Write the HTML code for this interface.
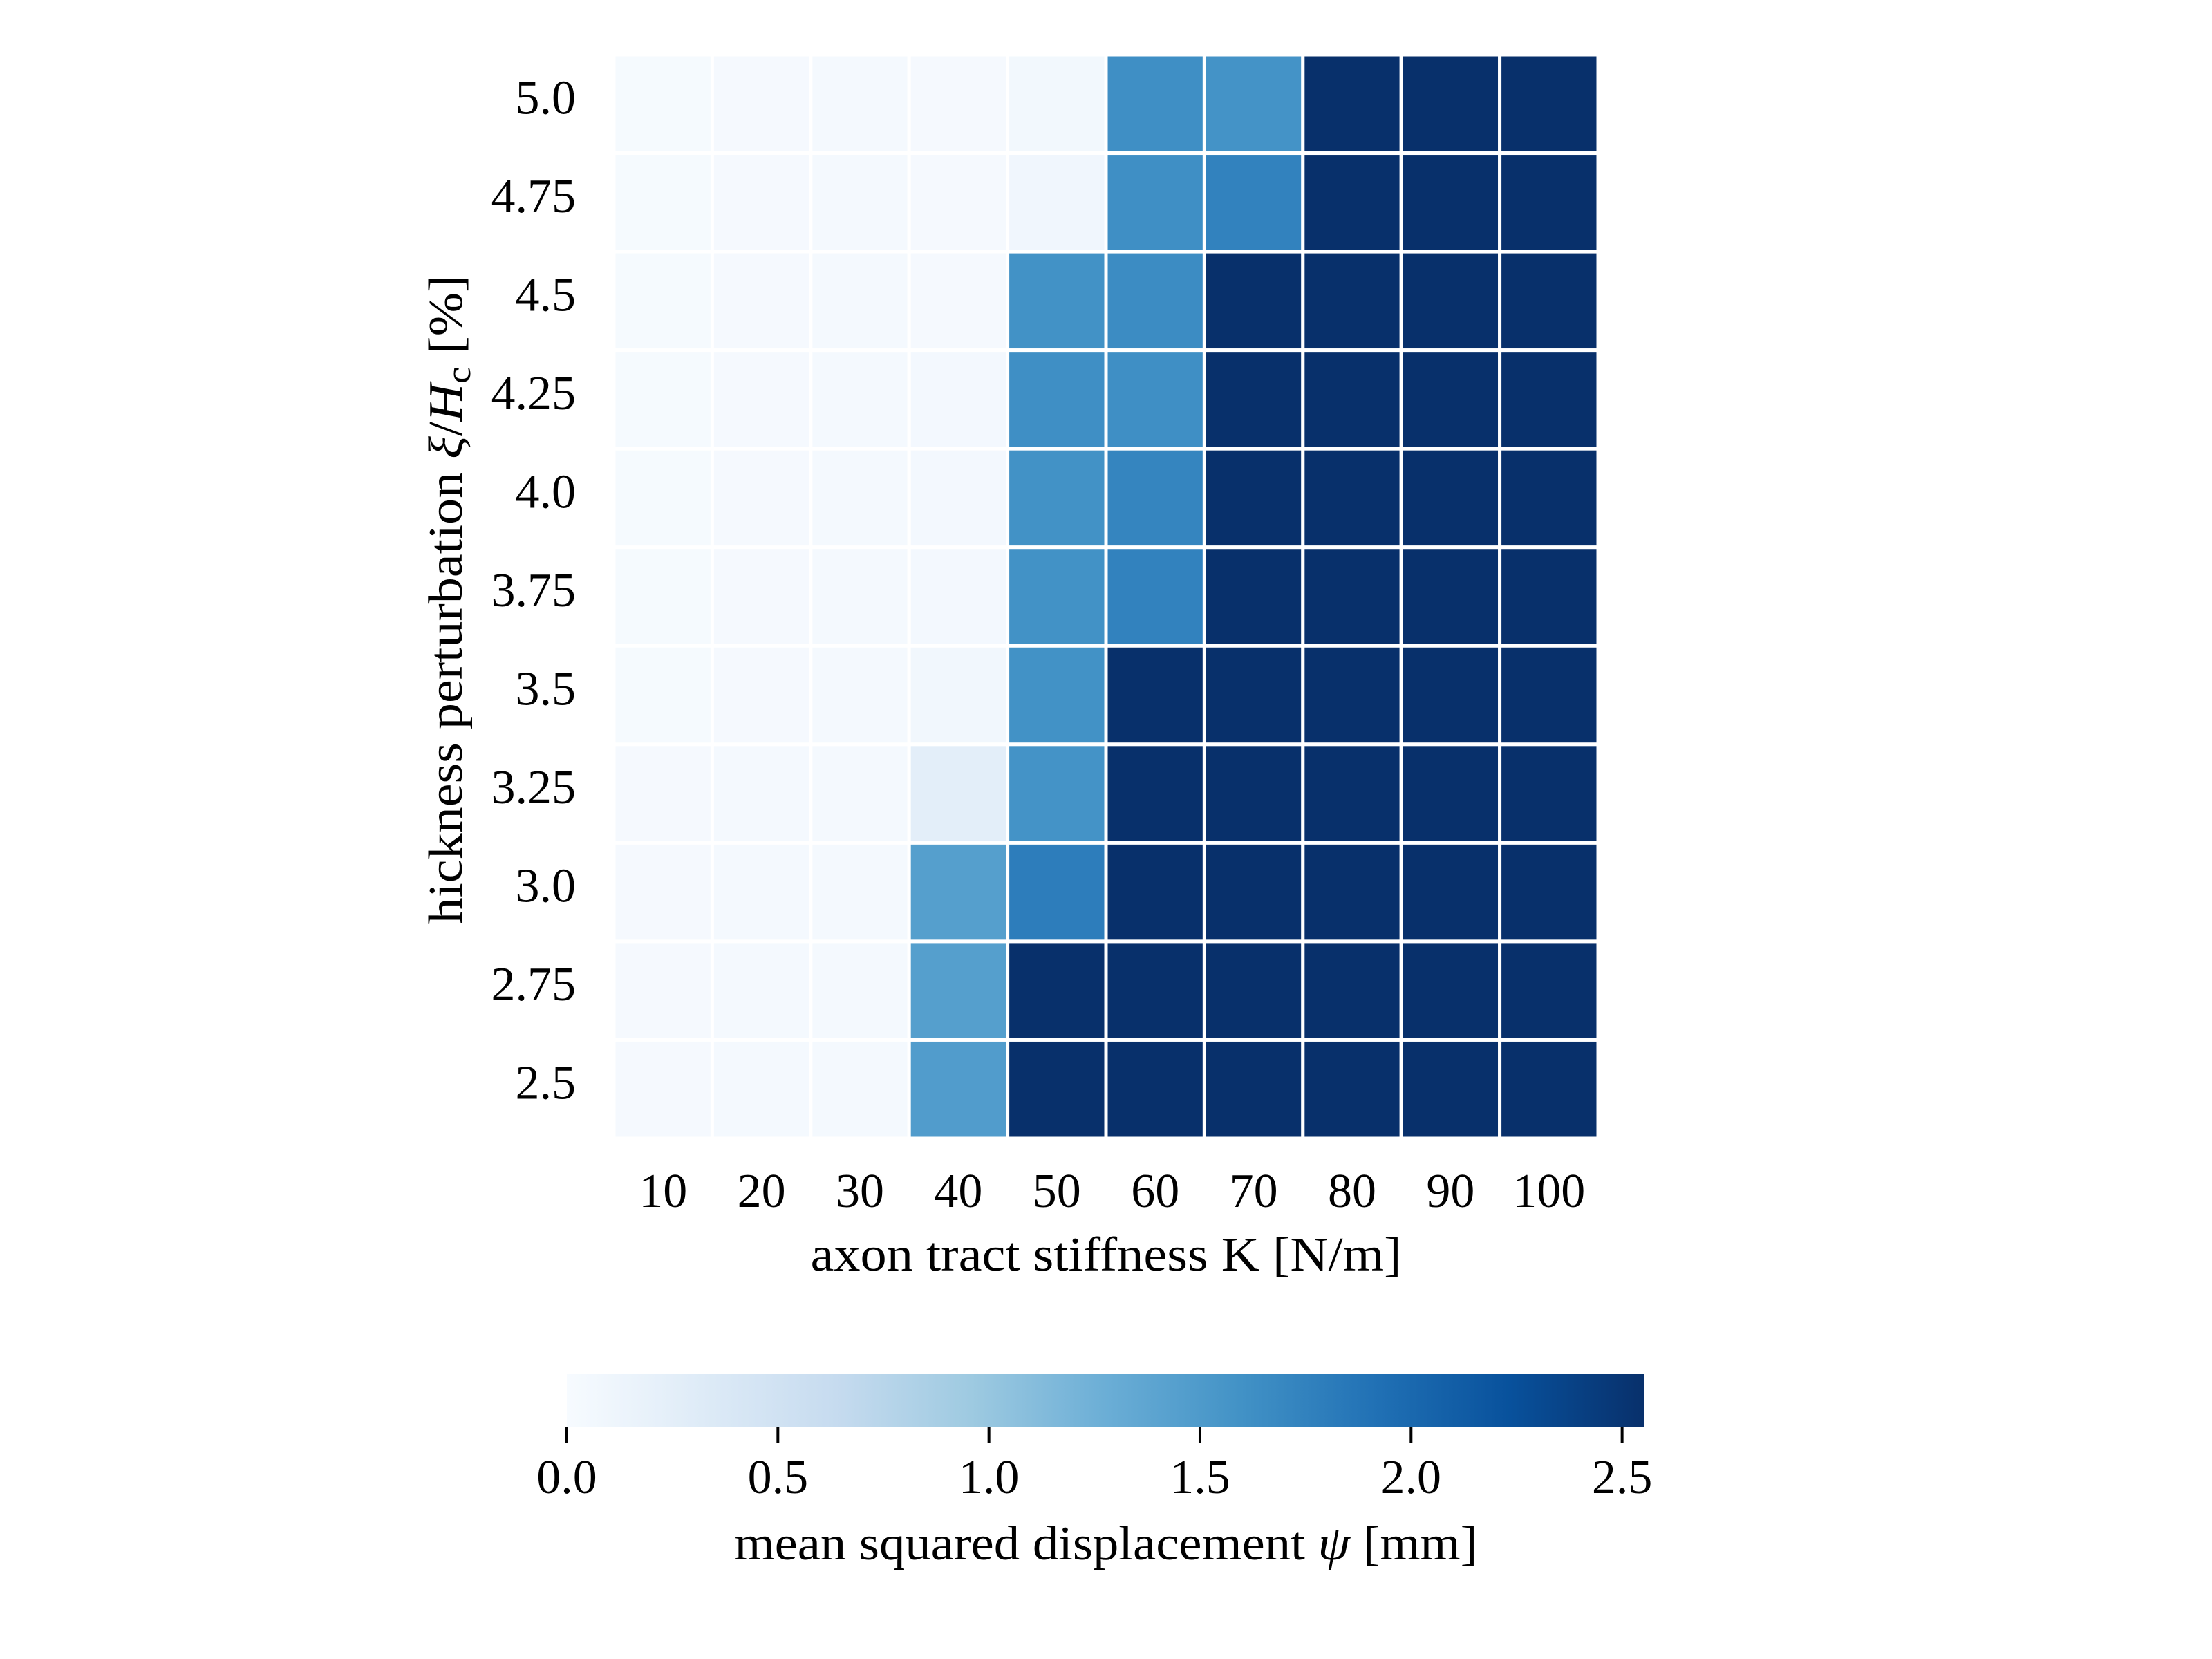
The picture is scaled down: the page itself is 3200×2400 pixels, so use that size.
<!DOCTYPE html>
<html><head><meta charset="utf-8"><style>
html,body{margin:0;padding:0;background:#fff;}
svg{display:block;font-family:"Liberation Serif",serif;}
</style></head><body>
<svg id="chart" width="3200" height="2400" viewBox="0 0 3200 2400" xmlns="http://www.w3.org/2000/svg">
<defs>
<linearGradient id="blues" x1="0" x2="1" y1="0" y2="0">
<stop offset="0" stop-color="#f7fbff"/><stop offset="0.125" stop-color="#deebf7"/>
<stop offset="0.25" stop-color="#c6dbef"/><stop offset="0.375" stop-color="#9ecae1"/>
<stop offset="0.5" stop-color="#6baed6"/><stop offset="0.625" stop-color="#4292c6"/>
<stop offset="0.75" stop-color="#2171b5"/><stop offset="0.875" stop-color="#08519c"/>
<stop offset="1" stop-color="#08306b"/>
</linearGradient>
</defs>
<g id="cells"></g>
<g id="xticks"></g>
<g id="yticks"></g>
<text x="1600" y="1838" font-size="70" text-anchor="middle" textLength="855" lengthAdjust="spacingAndGlyphs">axon tract stiffness K [N/m]</text>
<text transform="translate(668,867) rotate(-90)" font-size="70" text-anchor="middle" textLength="939" lengthAdjust="spacingAndGlyphs">hickness perturbation <tspan font-style="italic">ξ</tspan>/<tspan font-style="italic">H</tspan><tspan font-size="50" dy="12">c</tspan><tspan dy="-12"> [%]</tspan></text>
<rect x="820" y="1988" width="1559" height="77" fill="url(#blues)"/>
<g id="cbticks"></g>
<text x="1600" y="2256" font-size="70" text-anchor="middle" textLength="1075" lengthAdjust="spacingAndGlyphs">mean squared displacement <tspan font-style="italic">ψ</tspan> [mm]</text>
</svg>
<script>
const xCategories = ["10","20","30","40","50","60","70","80","90","100"];
const yCategories = ["5.0","4.75","4.5","4.25","4.0","3.75","3.5","3.25","3.0","2.75","2.5"];
const row5_00 = [0.02,0.03,0.04,0.03,0.06,1.62,1.58,2.6,2.6,2.6];
const row4_75 = [0.02,0.03,0.04,0.03,0.09,1.62,1.75,2.6,2.6,2.6];
const row4_50 = [0.02,0.03,0.04,0.03,1.6,1.65,2.6,2.6,2.6,2.6];
const row4_25 = [0.02,0.03,0.04,0.05,1.62,1.62,2.6,2.6,2.6,2.6];
const row4_00 = [0.02,0.03,0.04,0.05,1.6,1.72,2.6,2.6,2.6,2.6];
const row3_75 = [0.02,0.03,0.04,0.05,1.6,1.75,2.6,2.6,2.6,2.6];
const row3_50 = [0.02,0.03,0.04,0.08,1.6,2.6,2.6,2.6,2.6,2.6];
const row3_25 = [0.03,0.04,0.04,0.25,1.58,2.6,2.6,2.6,2.6,2.6];
const row3_00 = [0.03,0.04,0.04,1.45,1.8,2.6,2.6,2.6,2.6,2.6];
const row2_75 = [0.03,0.04,0.04,1.45,2.6,2.6,2.6,2.6,2.6,2.6];
const row2_50 = [0.03,0.04,0.04,1.48,2.6,2.6,2.6,2.6,2.6,2.6];
const values = [row5_00,row4_75,row4_50,row4_25,row4_00,row3_75,row3_50,row3_25,row3_00,row2_75,row2_50];
const cbTicks = [0.0,0.5,1.0,1.5,2.0,2.5];
const cbTickLabels = ["0.0","0.5","1.0","1.5","2.0","2.5"];
const vmax = 2.553;

const NS="http://www.w3.org/2000/svg";
const L=888,R=2312,T=79,B=1647;
const cw=(R-L)/xCategories.length, ch=(B-T)/yCategories.length;
function xPos(i){return L+i*cw;}
function yPos(j){return T+j*ch;}
function cbX(v){return 820+v/vmax*1559;}
const stops=[[247,251,255],[222,235,247],[198,219,239],[158,202,225],[107,174,214],[66,146,198],[33,113,181],[8,81,156],[8,48,107]];
function color(v){let t=Math.max(0,Math.min(1,v/vmax))*8;let i=Math.min(7,Math.floor(t)),f=t-i;
 const c=stops[i].map((a,k)=>Math.round(a+(stops[i+1][k]-a)*f));return `rgb(${c})`;}
function mk(tag,attrs,parent){const e=document.createElementNS(NS,tag);for(const k in attrs)e.setAttribute(k,attrs[k]);parent.appendChild(e);return e;}
const cells=document.getElementById('cells');
values.forEach((row,j)=>row.forEach((v,i)=>{
 const r=mk('rect',{x:xPos(i),y:yPos(j),width:cw,height:ch,fill:color(v),stroke:'#fff','stroke-width':5},cells);
 
 
}));
const xt=document.getElementById('xticks');
xCategories.forEach((c,i)=>{const t=mk('text',{x:xPos(i)+cw/2,y:1746,'font-size':70,'text-anchor':'middle'},xt);t.textContent=c;
 
 });
const yt=document.getElementById('yticks');
yCategories.forEach((c,j)=>{const t=mk('text',{x:833,y:yPos(j)+ch/2+14,'font-size':70,'text-anchor':'end'},yt);t.textContent=c;
 
 });
const cb=document.getElementById('cbticks');
cbTicks.forEach((v,k)=>{const x=cbX(v);
 const l=mk('line',{x1:x,x2:x,y1:2065,y2:2088,stroke:'#000','stroke-width':4},cb);
 
 
 const t=mk('text',{x:x,y:2160,'font-size':70,'text-anchor':'middle'},cb);t.textContent=cbTickLabels[k];
 
 });
</script>
</body></html>
